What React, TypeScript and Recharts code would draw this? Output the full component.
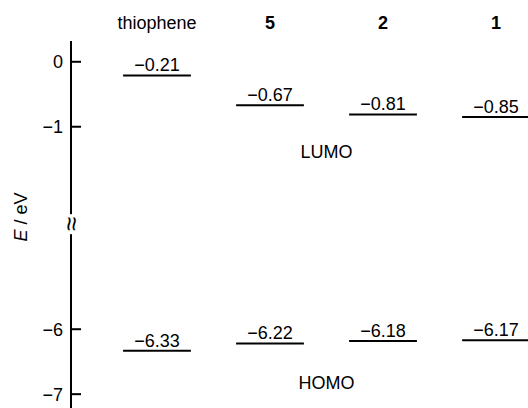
import React from 'react';
import {
  ComposedChart,
  XAxis,
  YAxis,
  ReferenceLine,
  ReferenceDot,
} from 'recharts';

const categories = ['thiophene', '5', '2', '1'];
const lumo = [-0.21, -0.67, -0.81, -0.85];
const homo = [-6.33, -6.22, -6.18, -6.17];
const yTickValues = [0, -1, -6, -7];

// broken axis: everything below the break is shifted up
const BREAK_SHIFT = 1.883;
const BREAK_AT = -2.5;
const toDisplay = (v: number) => (v < -3 ? v + BREAK_SHIFT : v);
const toReal = (d: number) => (d < -3 ? d - BREAK_SHIFT : d);
const fmt = (v: number, digits = 2) => v.toFixed(digits).replace('-', '\u2212');

const HALF = 0.3;
const FONT = 18;

const CategoryTick = (props: any) => {
  const { x, payload } = props;
  const name = categories[payload.value];
  const bold = name !== 'thiophene';
  return (
    <text x={x} y={29} textAnchor='middle' fontSize={FONT} fontWeight={bold ? 'bold' : 'normal'} fill='#000'>
      {name}
    </text>
  );
};

const EnergyTick = (props: any) => {
  const { x, y, payload } = props;
  const axisX = x + 8;
  if (Math.abs(payload.value - BREAK_AT) < 1e-6) {
    return (
      <g>
        <rect x={axisX - 6} y={y - 10} width={12} height={20} fill='#fff' />
        <text
          x={axisX}
          y={y}
          fontSize={26}
          textAnchor='middle'
          dominantBaseline='central'
          transform={`rotate(-90 ${axisX} ${y})`}
          fill='#000'
        >
          ≈
        </text>
      </g>
    );
  }
  const real = Math.round(toReal(payload.value));
  return (
    <g>
      <line x1={axisX} x2={axisX + 10} y1={y} y2={y} stroke='#000' strokeWidth={2} />
      <text x={x} y={y} dy='0.36em' textAnchor='end' fontSize={FONT} fill='#000'>
        {fmt(real, 0)}
      </text>
    </g>
  );
};

const AxisTitle = () => (
  <text
    x={21}
    y={217}
    textAnchor='middle'
    dominantBaseline='central'
    fontSize={FONT}
    fill='#000'
    style={{ fill: '#000' }}
    transform='rotate(-90 21 217)'
  >
    <tspan fontStyle='italic'>E</tspan> / eV
  </text>
);

const App: React.FC = () => {
  return (
    <div
      style={{
        position: 'absolute',
        left: 0,
        top: 0,
        width: 528,
        height: 408,
        overflow: 'hidden',
        background: '#fff',
        fontFamily: '"Liberation Sans", Arial, sans-serif',
      }}
    >
      <ComposedChart width={528} height={408} margin={{ top: 11, right: 0, bottom: 0, left: 0 }}>
        <XAxis
          xAxisId='cat'
          orientation='top'
          type='number'
          dataKey='x'
          domain={[-0.761, 3.283]}
          allowDataOverflow
          ticks={categories.map((_, i) => i)}
          tick={<CategoryTick />}
          axisLine={false}
          tickLine={false}
          height={30}
        />
        <YAxis
          yAxisId='e'
          type='number'
          domain={[-5.33, 0.32]}
          allowDataOverflow
          ticks={[...yTickValues.map(toDisplay), BREAK_AT]}
          interval={0}
          width={71}
          tickSize={0}
          tickMargin={8}
          tickLine={false}
          axisLine={{ stroke: '#000', strokeWidth: 2 }}
          tick={<EnergyTick />}
          label={<AxisTitle />}
        />
        {[...lumo, ...homo].map((v, k) => {
          const i = k % categories.length;
          const d = toDisplay(v);
          return (
            <ReferenceLine
              key={k}
              xAxisId='cat'
              yAxisId='e'
              ifOverflow='visible'
              segment={[
                { x: i - HALF, y: d },
                { x: i + HALF, y: d },
              ]}
              stroke='#000'
              strokeWidth={2}
              label={{ value: fmt(v), position: 'top', offset: 4, fill: '#000', fontSize: FONT }}
            />
          );
        })}
        <ReferenceDot
          xAxisId='cat'
          yAxisId='e'
          x={1.5}
          y={toDisplay(-1.39)}
          r={0}
          ifOverflow='visible'
          label={{ value: 'LUMO', position: 'center', fill: '#000', fontSize: FONT }}
        />
        <ReferenceDot
          xAxisId='cat'
          yAxisId='e'
          x={1.5}
          y={toDisplay(-6.82)}
          r={0}
          ifOverflow='visible'
          label={{ value: 'HOMO', position: 'center', fill: '#000', fontSize: FONT }}
        />
      </ComposedChart>
    </div>
  );
};

export default App;
